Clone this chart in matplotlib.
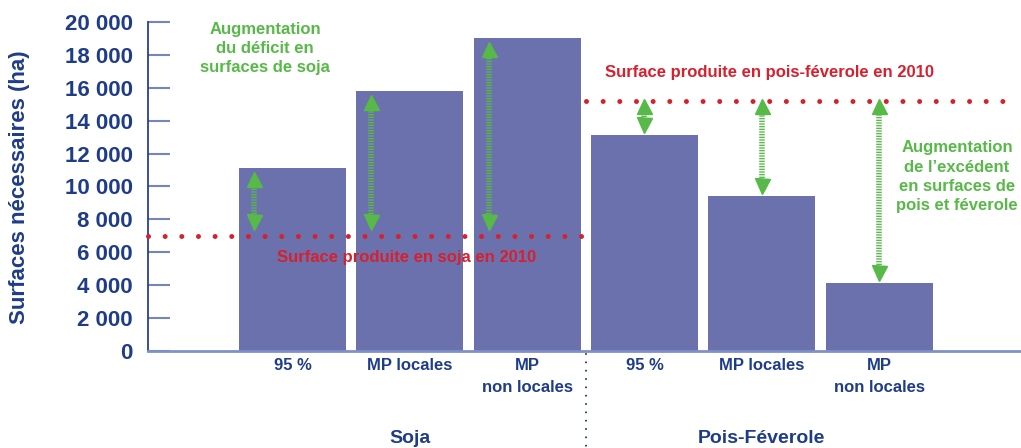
import matplotlib.pyplot as plt
from matplotlib.transforms import blended_transform_factory

plt.rcParams['font.family'] = ['Liberation Sans', 'DejaVu Sans']
plt.rcParams['font.weight'] = 'bold'

# donnees
groupes = ['Soja', 'Pois-Féverole']
scenarios = ['95 %', 'MP locales', 'MP\nnon locales', '95 %', 'MP locales', 'MP\nnon locales']
surfaces = [11100, 15800, 19050, 13150, 9400, 4100]
surface_soja_2010 = 7000
surface_pois_2010 = 15230
yticks = [0, 2000, 4000, 6000, 8000, 10000, 12000, 14000, 16000, 18000, 20000]

bleu = '#1f3c88'
barre = '#6b71ad'
rouge = '#d7202e'
vert = '#57b947'

fig = plt.figure(figsize=(10.21, 4.48), dpi=100)
ax = fig.add_axes([148 / 1021, 1 - 350.7 / 448, 873 / 1021, 328.4 / 448])

x = list(range(len(surfaces)))
ax.bar(x, surfaces, width=0.912, color=barre, zorder=2)
ax.set_xlim(-1.232, 6.21)
ax.set_ylim(0, 20000)

for s in ['top', 'right']:
    ax.spines[s].set_visible(False)
ax.spines['left'].set_color('#2a3f8f')
ax.spines['left'].set_linewidth(1.3)
ax.spines['bottom'].set_color('#8090c8')
ax.spines['bottom'].set_linewidth(2)

ax.set_yticks(yticks)
ax.set_yticklabels([f"{v:,}".replace(',', ' ') for v in yticks])
ax.tick_params(axis='y', direction='in', length=15.8, width=1.5, color='#7486c0',
               labelsize=16, labelcolor=bleu, pad=11)
ax.set_xticks(x)
ax.set_xticklabels(scenarios, fontsize=12)
ax.tick_params(axis='x', length=0, labelcolor=bleu, pad=5)
for lbl in ax.get_xticklabels():
    lbl.set_linespacing(1.65)

fig.text(20 / 1021, 1 - 187 / 448, 'Surfaces nécessaires (ha)', rotation=90,
         ha='center', va='center', fontsize=16, color=bleu)

# lignes de surface produite en 2010
sep = 2.5
ax.plot([ax.get_xlim()[0], sep], [surface_soja_2010] * 2, color=rouge, lw=3.6,
        ls=(0, (0.001, 3.33)), dash_capstyle='round', zorder=4, clip_on=False)
ax.plot([sep, 6.12], [surface_pois_2010] * 2, color=rouge, lw=3.6,
        ls=(0, (0.001, 3.33)), dash_capstyle='round', zorder=4, clip_on=False)


def fleche(xc, y_bas, y_haut):
    tete = 457
    ax.plot([xc, xc], [y_bas + tete, y_haut - tete], color=vert, lw=4,
            dashes=(0.24, 0.24), zorder=5)
    ax.plot(xc, y_haut - tete, marker='^', ms=10.8, color=vert, zorder=5, lw=0)
    ax.plot(xc, y_bas + tete, marker='v', ms=10.8, color=vert, zorder=5, lw=0)


for i in range(3):
    fleche(x[i] - 0.328, surface_soja_2010 + 400, surfaces[i] - 200)
for i in range(3, 6):
    fleche(x[i], surfaces[i] + 150, surface_pois_2010 + 150)

ax.text(-0.234, 18400, 'Augmentation\ndu déficit en\nsurfaces de soja', color=vert,
        fontsize=12, ha='center', va='center', linespacing=1.36, zorder=6)
ax.text(5.665, 10580, 'Augmentation\nde l\u2019excédent\nen surfaces de\npois et féverole',
        color=vert, fontsize=12, ha='center', va='center', linespacing=1.36, zorder=6)
ax.text(4.062, 16920, 'Surface produite en pois-féverole en 2010', color=rouge,
        fontsize=12, ha='center', va='center', zorder=6)
ax.text(0.968, 5650, 'Surface produite en soja en 2010', color=rouge,
        fontsize=12, ha='center', va='center', zorder=6)

# separation et noms des groupes
tr = blended_transform_factory(ax.transData, ax.transAxes)
ax.plot([sep, sep], [-0.01, -0.3], transform=tr, color=bleu, lw=1.5,
        ls=(0, (0.001, 4)), dash_capstyle='round', clip_on=False)
for xg, nom in zip([1, 4], groupes):
    ax.text(xg, -0.266, nom, transform=tr, ha='center', va='center', color=bleu,
            fontsize=14)

fig.savefig('out.png', dpi=100)
